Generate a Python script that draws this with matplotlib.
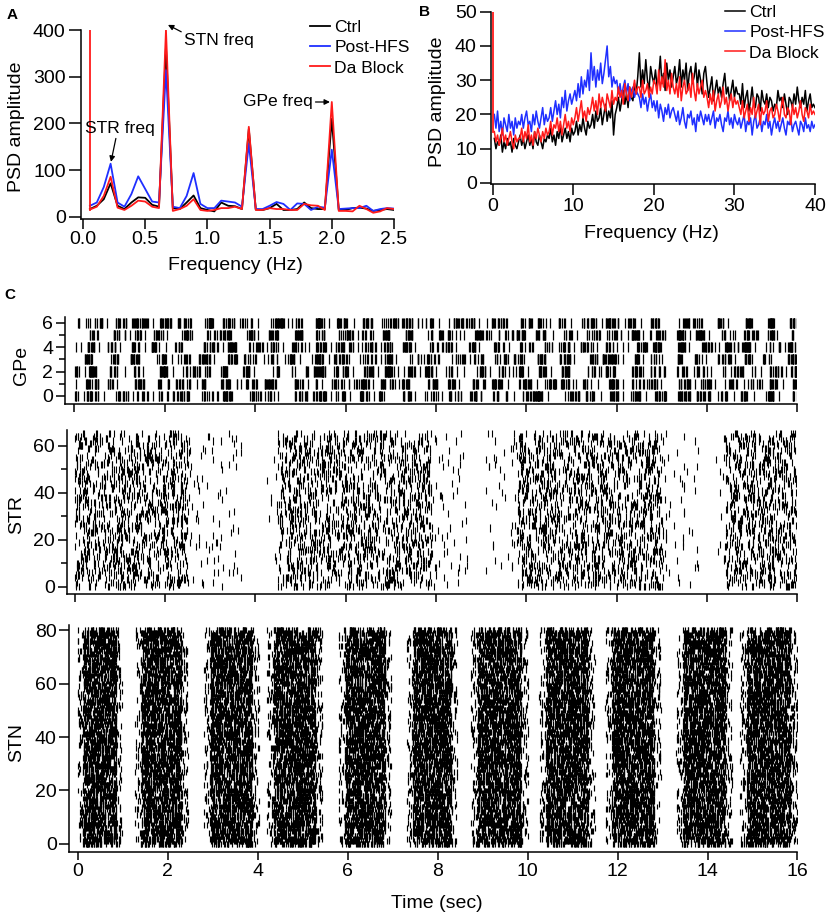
import numpy as np
import matplotlib
matplotlib.use("Agg")
import matplotlib.pyplot as plt

plt.rcParams['font.family'] = ['Liberation Sans', 'DejaVu Sans']

# ---------------- data ----------------
# Panel A: PSD of population activity, 1/18 Hz bins
freq_a = [0.056, 0.111, 0.167, 0.222, 0.278, 0.333, 0.389, 0.444, 0.5, 0.556,
          0.611, 0.667, 0.722, 0.778, 0.833, 0.889, 0.944, 1.0, 1.056, 1.111,
          1.167, 1.222, 1.278, 1.333, 1.389, 1.444, 1.5, 1.556, 1.611, 1.667,
          1.722, 1.778, 1.833, 1.889, 1.944, 2.0, 2.056, 2.111, 2.167, 2.222,
          2.278, 2.333, 2.389, 2.444, 2.5]
ctrl_a = [17, 24, 38, 72, 24, 17, 31, 42, 41, 26, 22, 365, 19, 17, 31, 46, 19, 15,
          12, 31, 24, 23, 17, 188, 16, 15, 19, 28, 15, 15, 17, 31, 19, 17, 17, 210,
          15, 15, 19, 20, 18, 13, 15, 17, 15]
hfs_a = [24, 31, 64, 114, 31, 22, 49, 87, 60, 33, 31, 314, 22, 19, 45, 94, 28, 19,
         19, 35, 33, 31, 22, 157, 17, 17, 24, 32, 28, 15, 29, 28, 15, 22, 20, 144,
         17, 18, 19, 19, 24, 13, 17, 19, 18]
da_a = [16, 22, 45, 86, 20, 15, 24, 35, 33, 22, 19, 400, 13, 17, 24, 38, 15, 13,
        15, 19, 19, 22, 17, 193, 15, 15, 19, 17, 17, 15, 15, 28, 25, 24, 15, 246,
        13, 13, 12, 24, 17, 9, 12, 19, 17]
dc_freq_a = 0.056      # red DC line at the first bin
dc_top_a = 400

# Panel B: PSD of single-cell activity, 0.2 Hz bins up to 40 Hz
freq_b = np.linspace(0.2, 40, 200)
ctrl_b = [13, 10, 12, 11, 14, 9, 12, 10, 13, 11, 12, 9, 13, 11, 10, 12,
          14, 11, 13, 10, 12, 14, 11, 13, 10, 15, 12, 11, 14, 12, 10, 13, 12, 14,
          13, 16, 12, 14, 11, 15, 13, 17, 12, 14, 16, 13, 15, 12, 16, 14,
          15, 18, 14, 17, 15, 19, 16, 14, 18, 16,
          17, 20, 16, 21, 18, 19, 22, 17, 20, 23, 18, 21, 19, 24, 14, 20,
          22, 25, 21, 24, 27, 23, 26, 22, 28, 25, 24, 29, 26, 31,
          38, 28, 33, 29, 36, 30, 27, 34, 31, 29,
          33, 28, 31, 37, 29, 32, 27, 35, 30, 33, 28, 31,
          34, 29, 31, 36, 28, 33, 30, 35, 27, 32, 34, 29, 31, 35, 28, 33, 30, 26, 32, 34,
          29, 25, 28, 31, 24, 27, 30, 26, 28, 25, 29, 32, 26, 28, 24, 27, 30, 25, 28, 26,
          26, 23, 29, 22, 25, 27, 21, 24, 28, 23, 22, 26, 25, 21, 27, 24, 23, 26, 22, 25,
          24, 21, 23, 22, 27, 24, 25, 22, 26, 23, 20, 25, 24, 22, 26, 23, 28, 24, 22, 25,
          23, 27, 21, 24, 26, 22, 23, 22]
hfs_b = [20, 16, 21, 15, 18, 14, 19, 17, 15, 20, 16, 18, 14, 19, 16, 18,
         17, 20, 16, 19, 21, 17, 18, 15, 20, 17, 21, 18, 16, 19, 22, 17, 20, 18,
         19, 22, 18, 21, 24, 20, 23, 19, 25, 22, 27, 21, 24, 26, 23, 25,
         27, 24, 29, 25, 31, 26, 30, 28, 33, 27,
         38, 30, 34, 28, 33, 30, 35, 29, 32, 36, 40, 31, 34, 28, 31, 29,
         30, 26, 29, 25, 28, 30, 26, 29, 24, 27, 28, 25, 27, 26,
         25, 22, 26, 23, 25, 21, 24, 26, 22, 24,
         21, 24, 19, 23, 21, 18, 22, 20, 23, 19, 21, 22,
         20, 18, 21, 17, 19, 22, 18, 16, 20, 19, 21, 17, 19, 15, 20, 18, 21, 19, 17, 20,
         18, 20, 17, 19, 21, 16, 19, 18, 20, 17, 15, 19, 18, 21, 17, 19, 16, 20, 18, 17,
         19, 16, 18, 20, 15, 18, 17, 19, 14, 18, 20, 16, 17, 19, 15, 18, 17, 20, 16, 18,
         14, 17, 19, 16, 18, 15, 17, 19, 16, 14, 18, 17, 19, 15, 17, 18, 16, 14, 18, 17,
         15, 19, 16, 17, 15, 18, 16, 17]
da_b = [15, 12, 14, 11, 13, 16, 12, 14, 11, 13, 15, 12, 10, 14, 12, 13,
        13, 16, 12, 15, 13, 17, 12, 14, 11, 15, 13, 16, 14, 12, 15, 13, 16, 14,
        15, 18, 14, 17, 16, 19, 15, 18, 14, 17, 20, 16, 18, 15, 19, 17,
        19, 22, 18, 21, 24, 19, 21, 18, 22, 20,
        22, 25, 21, 24, 20, 26, 22, 25, 23, 21, 26, 24, 22, 27, 23, 25,
        24, 28, 25, 27, 23, 29, 26, 24, 28, 25, 27, 30, 26, 28,
        28, 25, 30, 26, 27, 29, 25, 28, 26, 30,
        29, 26, 33, 27, 31, 28, 36, 27, 30, 26, 32, 28,
        26, 29, 25, 31, 24, 28, 30, 26, 27, 29, 25, 32, 27, 24, 29, 26, 28, 30, 25, 27,
        25, 22, 26, 23, 27, 21, 24, 26, 22, 24, 28, 23, 25, 21, 24, 26, 22, 25, 23, 24,
        22, 20, 24, 19, 21, 23, 18, 22, 20, 25, 19, 21, 23, 17, 22, 20, 21, 24, 18, 21,
        22, 19, 20, 23, 21, 18, 22, 25, 20, 19, 22, 21, 17, 23, 20, 22, 19, 21, 24, 20,
        18, 22, 21, 19, 23, 20, 21, 20]
dc_freq_b = 0.05
dc_top_b = 50

# Panel C: raster plots
gpe_cells = 7
gpe_rate_hz = 2.0                     # GPe burst frequency (panel A)
str_cells = 66
str_on = [-0.15, 4.25, 9.1, 14.2]     # first / last STR spikes of each episode
str_core_on = [0.0, 4.5, 9.8, 14.4]   # dense part of each episode
str_core_off = [2.5, 7.9, 13.0, 16.0]
str_off = [3.7, 8.7, 13.8, 16.0]
stn_cells = 81
stn_on = [0.0, 1.27, 2.80, 4.21, 5.80, 7.32, 8.73, 10.26, 11.73, 13.31, 14.72]
stn_off = [0.98, 2.45, 4.03, 5.44, 6.97, 8.44, 10.02, 11.49, 12.96, 14.55, 16.0]


def place(n, lo, hi, key):
    # deterministic (hash based) spread of n spike times over [lo, hi]
    k = np.arange(1, n + 1)
    u = np.sin(k * 12.9898 + key * 78.233) * 43758.5453
    u = u - np.floor(u)
    return lo + (hi - lo) * u


def gpe_spikes():
    ts, ys = [], []
    starts = np.arange(-0.3, 16, 1 / gpe_rate_hz)
    for i in range(gpe_cells):
        for c, c0 in enumerate(starts):
            key = i * 31.7 + c * 3.1 + 0.5
            u = place(4, 0, 1, key)
            t0 = c0 + 0.18 * u[0]
            dur = 0.15 + 0.25 * u[1]
            n = 7 + int(10 * u[2])
            t = place(n, t0, t0 + dur, key + 0.21)
            ts.extend(t)
            ys.extend([i] * n)
            if u[3] > 0.4:
                ts.append(t0 + dur + 0.04 + 0.08 * u[3])
                ys.append(i)
    ts, ys = np.array(ts), np.array(ys)
    keep = (ts >= 0) & (ts <= 16)
    return ts[keep], ys[keep]


def burst_spikes(cells, on, off, core_on, core_off, edge_rate, core_rate):
    ts, ys = [], []
    for i in range(cells):
        for b in range(len(on)):
            key = i * 17.3 + b * 5.9 + 0.3
            n_e = max(1, int(round(edge_rate * (off[b] - on[b]))))
            n_c = int(round(core_rate * (core_off[b] - core_on[b])))
            t = np.concatenate([place(n_e, on[b], off[b], key),
                                place(n_c, core_on[b], core_off[b], key + 0.47)])
            ts.extend(t)
            ys.extend([i] * len(t))
    ts, ys = np.array(ts), np.array(ys)
    keep = (ts >= 0) & (ts <= 16)
    return ts[keep], ys[keep]


# ---------------- figure ----------------
W, H = 829, 918
FS = 14       # tick and axis labels
FS_SMALL = 12.6  # legends and annotations
fig = plt.figure(figsize=(W / 100, H / 100), dpi=100)


def rect(l, t, r, b):
    return [l / W, 1 - b / H, (r - l) / W, (b - t) / H]


def style(ax, xlen=7, ylen=8):
    for s in ['top', 'right']:
        ax.spines[s].set_visible(False)
    for s in ['left', 'bottom']:
        ax.spines[s].set_linewidth(1.1)
    ax.tick_params(which='major', direction='out', width=1.1, labelsize=FS, pad=2)
    ax.tick_params(axis='x', which='major', length=xlen)
    ax.tick_params(axis='y', which='major', length=ylen)
    ax.tick_params(which='minor', direction='out', length=4, width=1.1)


BLUE = '#1f2fff'
RED = '#ff1a1a'

# ---- A ----
axA = fig.add_axes(rect(81, 30, 394, 219))
style(axA, 7, 9)
axA.plot(freq_a, ctrl_a, color='black', lw=1.3, label='Ctrl')
axA.plot(freq_a, hfs_a, color=BLUE, lw=1.3, label='Post-HFS')
axA.plot(freq_a, da_a, color=RED, lw=1.3, label='Da Block')
axA.plot([dc_freq_a, dc_freq_a], [da_a[0], dc_top_a], color=RED, lw=1.3)
axA.set_xlim(-0.016, 2.5)
axA.set_ylim(-4.3, 400)
axA.set_xticks([0, 0.5, 1.0, 1.5, 2.0, 2.5])
axA.set_xticklabels(['0.0', '0.5', '1.0', '1.5', '2.0', '2.5'])
axA.set_yticks([0, 100, 200, 300, 400])

arrow = dict(arrowstyle='-|>', color='black', lw=0.9, mutation_scale=8,
             shrinkA=0, shrinkB=0)
axA.annotate('STN freq', xy=(0.683, 411), xytext=(0.812, 377), fontsize=FS_SMALL,
             ha='left', va='center', annotation_clip=False,
             arrowprops=dict(arrow, relpos=(0.0, 1.0)))
axA.annotate('STR freq', xy=(0.225, 118), xytext=(0.297, 190), fontsize=FS_SMALL,
             ha='center', va='center', annotation_clip=False,
             arrowprops=dict(arrow, relpos=(0.45, 0.0)))
axA.annotate('GPe freq', xy=(1.985, 246), xytext=(1.286, 246), fontsize=FS_SMALL,
             ha='left', va='center', annotation_clip=False,
             arrowprops=dict(arrow, relpos=(1.0, 0.5)))

leg_kw = dict(bbox_transform=fig.transFigure, frameon=False, fontsize=FS_SMALL,
              handlelength=1.15, handletextpad=0.25, labelspacing=0.28,
              borderpad=0, borderaxespad=0, loc='upper left')
axA.legend(bbox_to_anchor=(310 / W, 1 - 20 / H), **leg_kw)

# ---- B ----
axB = fig.add_axes(rect(490.7, 11.7, 815, 184))
style(axB, 8, 8)
axB.plot(freq_b, ctrl_b, color='black', lw=1.1, label='Ctrl')
axB.plot(freq_b, hfs_b, color=BLUE, lw=1.1, label='Post-HFS')
axB.plot(freq_b, da_b, color=RED, lw=1.1, label='Da Block')
axB.plot([dc_freq_b, dc_freq_b], [da_b[0], dc_top_b], color=RED, lw=1.3)
axB.set_xlim(-0.25, 40)
axB.set_ylim(-0.3, 50)
axB.set_xticks([0, 10, 20, 30, 40])
axB.set_yticks([0, 10, 20, 30, 40, 50])
axB.legend(bbox_to_anchor=(725 / W, 1 - 5 / H), **leg_kw)

# ---- C: GPe ----
axG = fig.add_axes(rect(65, 316.7, 797.5, 404))
style(axG, 6, 6.5)
t, y = gpe_spikes()
axG.vlines(t, y - 0.42, y + 0.42, color='black', lw=0.9)
axG.set_xlim(-0.21, 16)
axG.set_ylim(-0.66, 6.5)
axG.set_yticks([0, 2, 4, 6])
axG.set_yticks([1, 3, 5], minor=True)
axG.set_xticks(range(0, 17, 2))
axG.tick_params(labelbottom=False)

# ---- C: STR ----
axS = fig.add_axes(rect(66.7, 430.4, 797.5, 594.3))
style(axS, 6, 6.5)
t, y = burst_spikes(str_cells, str_on, str_off, str_core_on, str_core_off, 1.0, 5.5)
axS.vlines(t, y - 1.5, y + 1.5, color='black', lw=0.8)
axS.set_xlim(-0.173, 16)
axS.set_ylim(-3.2, 66.5)
axS.set_yticks([0, 20, 40, 60])
axS.set_yticks([10, 30, 50], minor=True)
axS.set_xticks(range(0, 17, 2))
axS.tick_params(labelbottom=False)

# ---- C: STN ----
axN = fig.add_axes(rect(69.3, 624.7, 797.5, 852))
style(axN, 6, 7)
core_on = [a + 0.12 * (b - a) for a, b in zip(stn_on, stn_off)]
core_off = [b - 0.12 * (b - a) for a, b in zip(stn_on, stn_off)]
t, y = burst_spikes(stn_cells, stn_on, stn_off, core_on, core_off, 7, 28)
axN.vlines(t, y - 1.1, y + 1.1, color='black', lw=0.85)
axN.set_xlim(-0.187, 16)
axN.set_ylim(-3, 82)
axN.set_yticks([0, 20, 40, 60, 80])
axN.set_xticks(range(0, 17, 2))


# ---- labels ----
def ftext(x, y, s, **kw):
    fig.text(x / W, 1 - y / H, s, ha='center', va='center', fontsize=FS, **kw)


ftext(17, 127, 'PSD amplitude', rotation=90)
ftext(235, 266, 'Frequency (Hz)')
ftext(437, 102, 'PSD amplitude', rotation=90)
ftext(651, 234, 'Frequency (Hz)')
ftext(22, 365, 'GPe', rotation=90)
ftext(17, 515, 'STR', rotation=90)
ftext(17, 743, 'STN', rotation=90)
ftext(437, 903, 'Time (sec)')
for x, y, s in [(12, 15, 'A'), (425, 12, 'B'), (10, 295, 'C')]:
    fig.text(x / W, 1 - y / H, s, fontsize=11, fontweight='bold',
             ha='center', va='center')

fig.savefig('out.png', dpi=100)
